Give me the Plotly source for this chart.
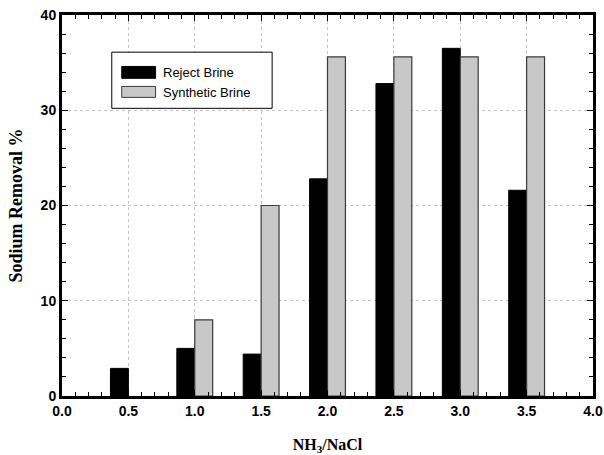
import plotly.graph_objects as go

ratios = [0.5, 1.0, 1.5, 2.0, 2.5, 3.0, 3.5]
reject_brine = [2.9, 5.0, 4.4, 22.8, 32.8, 36.5, 21.6]
synthetic_brine = [None, 8.0, 20.0, 35.6, 35.6, 35.6, 35.6]
x_ticks = [0.0, 0.5, 1.0, 1.5, 2.0, 2.5, 3.0, 3.5, 4.0]
y_ticks = [0, 10, 20, 30, 40]

BW = 0.135
fig = go.Figure()
fig.add_trace(go.Bar(x=ratios, y=reject_brine, name="Reject Brine", width=BW, offset=-BW,
                     marker=dict(color="black", line=dict(color="black", width=1))))
fig.add_trace(go.Bar(x=ratios, y=synthetic_brine, name="Synthetic Brine", width=BW, offset=0,
                     marker=dict(color="#c8c8c8", line=dict(color="#3a3a3a", width=1.2))))

sans = "Arial, Liberation Sans, sans-serif"
serif = "Times New Roman, Liberation Serif, serif"

fig.update_layout(
    width=604, height=455,
    margin=dict(l=62, r=11, t=15, b=59),
    plot_bgcolor="white", paper_bgcolor="white",
    barmode="overlay", showlegend=False,
    xaxis=dict(range=[0, 4], tickvals=x_ticks, ticktext=[f"{v:.1f}" for v in x_ticks],
               automargin=False,
               showline=True, linecolor="black", linewidth=3, mirror="allticks",
               ticks="inside", ticklen=6, tickwidth=1, tickcolor="black",
               minor=dict(dtick=0.1, ticks="inside", ticklen=4, tickcolor="black", showgrid=False),
               showgrid=True, gridcolor="#c4c4c4", griddash="dot", gridwidth=1,
               zeroline=False,
               tickfont=dict(family=sans, size=14, color="black", weight="bold"),
               title=dict(text="NH<sub>3</sub>/NaCl", standoff=25,
                          font=dict(family=serif, size=16, color="black", weight="bold"))),
    yaxis=dict(range=[0, 40], tickvals=y_ticks,
               automargin=False,
               showline=True, linecolor="black", linewidth=3, mirror="allticks",
               ticks="inside", ticklen=6, tickwidth=1, tickcolor="black",
               minor=dict(dtick=2, ticks="inside", ticklen=4, tickcolor="black", showgrid=False),
               showgrid=True, gridcolor="#c4c4c4", griddash="dot", gridwidth=1,
               zeroline=False,
               tickfont=dict(family=sans, size=14, color="black", weight="bold"),
               title=dict(text="Sodium Removal %", standoff=14,
                          font=dict(family=serif, size=18, color="black", weight="bold"))),
)

# manual legend (box, swatches, labels)
fig.add_shape(type="rect", xref="x", yref="y", x0=0.375, x1=1.583, y0=30.2, y1=36.1,
              fillcolor="white", line=dict(color="black", width=1), layer="above")
fig.add_shape(type="rect", xref="x", yref="y", x0=0.45, x1=0.705, y0=33.35, y1=34.6,
              fillcolor="black", line=dict(color="black", width=1), layer="above")
fig.add_shape(type="rect", xref="x", yref="y", x0=0.45, x1=0.705, y0=31.35, y1=32.5,
              fillcolor="#c8c8c8", line=dict(color="#3a3a3a", width=1), layer="above")
for label, yy in [("Reject Brine", 34.0), ("Synthetic Brine", 31.9)]:
    fig.add_annotation(x=0.745, y=yy, xref="x", yref="y", text=label, showarrow=False,
                       xanchor="left", yanchor="middle",
                       font=dict(family=sans, size=13, color="black"))

# remove the default 8px page margin so the figure sits at the window's top-left corner
fig.write_html("out.html", config={"displayModeBar": False},
               post_script="document.body.style.margin='0';document.body.style.overflow='hidden';")
